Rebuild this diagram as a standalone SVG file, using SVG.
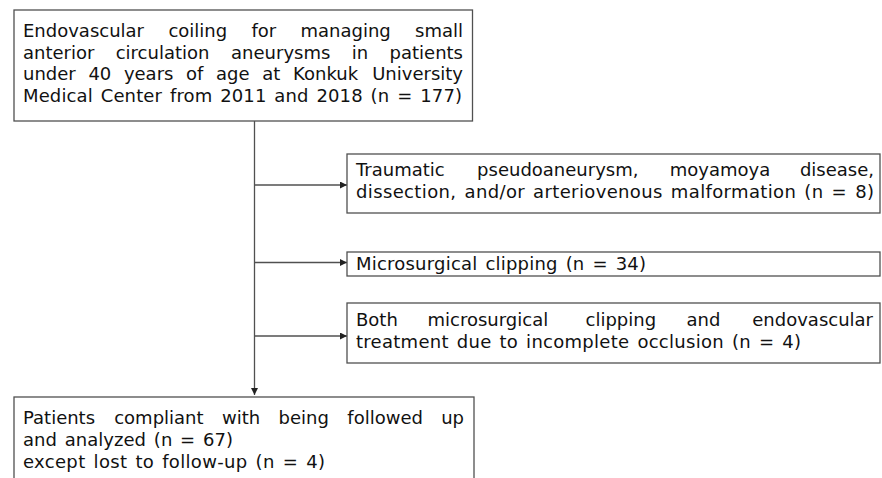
<svg xmlns="http://www.w3.org/2000/svg" width="882" height="478" viewBox="0 0 882 478">
<style>
.box{fill:#fff;stroke:#505050;stroke-width:1.3}
.t{font-family:"DejaVu Sans","Noto Sans","Liberation Sans",sans-serif;font-size:18px;fill:#111}
.n{word-spacing:2px}
.e{text-anchor:end}
.c{fill:none;stroke:#505050;stroke-width:1.3}
</style>
<defs>
<marker id="ah" viewBox="0 0 8 8" refX="8" refY="4" markerWidth="7" markerHeight="7" markerUnits="userSpaceOnUse" orient="auto">
<path d="M0,0 L8,4 L0,8 z" fill="#222"/>
</marker>
</defs>
<rect width="882" height="478" fill="#fff"/>
<g id="connectors">
<path class="c" d="M254.5,121 V395" marker-end="url(#ah)"/>
<path class="c" d="M254.5,185 H347" marker-end="url(#ah)"/>
<path class="c" d="M254.5,262.5 H347" marker-end="url(#ah)"/>
<path class="c" d="M254.5,336 H347" marker-end="url(#ah)"/>
</g>
<g id="n1">
<rect class="box" x="14" y="10" width="458.5" height="111"/>
<text class="t" y="37"><tspan x="23">Endovascular</tspan><tspan x="168.4">coiling</tspan><tspan x="251.4">for</tspan><tspan x="300.5">managing</tspan><tspan class="e" x="463">small</tspan></text>
<text class="t" y="58.5"><tspan x="23">anterior</tspan><tspan x="115.7">circulation</tspan><tspan x="231.1">aneurysms</tspan><tspan x="351.7">in</tspan><tspan class="e" x="463">patients</tspan></text>
<text class="t" y="80"><tspan x="23">under</tspan><tspan x="88.4">40</tspan><tspan x="123.9">years</tspan><tspan x="186.1">of</tspan><tspan x="216.1">age</tspan><tspan x="262.3">at</tspan><tspan x="293.1">Konkuk</tspan><tspan class="e" x="463">University</tspan></text>
<text class="t n" x="23" y="101.5" textLength="439" lengthAdjust="spacing">Medical Center from 2011 and 2018 (n = 177)</text>
</g>
<g id="n2">
<rect class="box" x="347" y="154" width="533" height="59"/>
<text class="t" y="176"><tspan x="356">Traumatic</tspan><tspan x="477.1">pseudoaneurysm,</tspan><tspan x="669.8">moyamoya</tspan><tspan class="e" x="874">disease,</tspan></text>
<text class="t n" x="356" y="198" textLength="518" lengthAdjust="spacing">dissection, and/or arteriovenous malformation (n = 8)</text>
</g>
<g id="n3">
<rect class="box" x="347" y="252" width="533" height="24"/>
<text class="t n" x="356" y="270" textLength="290" lengthAdjust="spacing">Microsurgical clipping (n = 34)</text>
</g>
<g id="n4">
<rect class="box" x="347" y="303" width="533" height="60"/>
<text class="t" y="326"><tspan x="356">Both</tspan><tspan x="427.5">microsurgical</tspan><tspan x="585.5">clipping</tspan><tspan x="686.5">and</tspan><tspan class="e" x="873">endovascular</tspan></text>
<text class="t n" x="356" y="348" textLength="445" lengthAdjust="spacing">treatment due to incomplete occlusion (n = 4)</text>
</g>
<g id="n5">
<rect class="box" x="14" y="397" width="460" height="100"/>
<text class="t" y="424"><tspan x="23">Patients</tspan><tspan x="114.2">compliant</tspan><tspan x="222">with</tspan><tspan x="278.5">being</tspan><tspan x="347.3">followed</tspan><tspan class="e" x="464">up</tspan></text>
<text class="t n" x="23" y="446" textLength="210" lengthAdjust="spacing">and analyzed (n = 67)</text>
<text class="t n" x="23" y="468" textLength="302" lengthAdjust="spacing">except lost to follow-up (n = 4)</text>
</g>
</svg>
